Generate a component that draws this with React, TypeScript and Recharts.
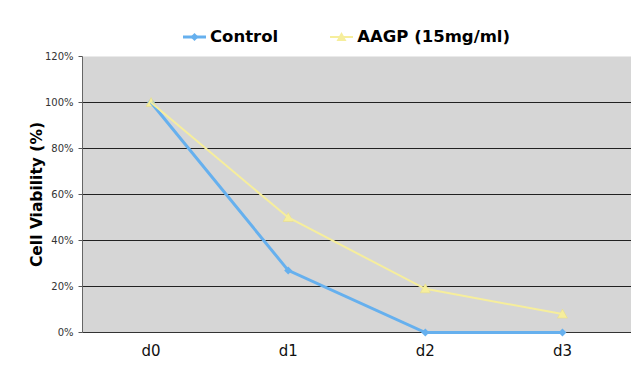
import React from 'react';
import { LineChart, Line, XAxis, YAxis, CartesianGrid, Legend } from 'recharts';

const categories = ['d0', 'd1', 'd2', 'd3'];
const controlValues = [100, 27, 0, 0];
const aagpValues = [100, 50, 19, 8];
const yTicks = [0, 20, 40, 60, 80, 100, 120];
const gridValues = [20, 40, 60, 80, 100];
const boundaryTicks = [0, 1, 2, 3, 4];

const CONTROL_COLOR = '#66b0ee';
const AAGP_COLOR = '#f6ee9c';

const data = categories.map((c, i) => ({ name: c, control: controlValues[i], aagp: aagpValues[i] }));

const Diamond = (props: any) => {
  const { cx, cy } = props;
  if (cx == null || cy == null) return null;
  const r = 4;
  return <path d={`M${cx},${cy - r}L${cx + r},${cy}L${cx},${cy + r}L${cx - r},${cy}Z`} fill={CONTROL_COLOR} stroke="none" />;
};

const Triangle = (props: any) => {
  const { cx, cy } = props;
  if (cx == null || cy == null) return null;
  const r = 5;
  return <path d={`M${cx},${cy - r}L${cx + r},${cy + r * 0.8}L${cx - r},${cy + r * 0.8}Z`} fill={AAGP_COLOR} stroke="#e8dc80" strokeWidth={0.5} />;
};

const legendItems = [
  { label: 'Control', color: CONTROL_COLOR, shape: 'diamond', width: 3 },
  { label: 'AAGP (15mg/ml)', color: AAGP_COLOR, shape: 'triangle', width: 2 },
];

const LegendContent = () => (
  <div style={{ display: 'flex', justifyContent: 'flex-start', alignItems: 'center', gap: 52, fontFamily: '"DejaVu Sans", Verdana, sans-serif', fontWeight: 'bold', fontSize: 16.5, lineHeight: '20px', color: '#000', paddingLeft: 183 }}>
    {legendItems.map((it) => (
      <div key={it.label} style={{ display: 'flex', alignItems: 'center' }}>
        <svg width={23} height={12} style={{ marginRight: 4 }}>
          <line x1={0} y1={6} x2={23} y2={6} stroke={it.color} strokeWidth={it.width} />
          {it.shape === 'diamond' ? (
            <path d="M11.5,2L15.5,6L11.5,10L7.5,6Z" fill={it.color} />
          ) : (
            <path d="M11.5,1L16.5,10L6.5,10Z" fill={it.color} />
          )}
        </svg>
        <span>{it.label}</span>
      </div>
    ))}
  </div>
);

export default function App() {
  return (
    <div style={{ position: 'absolute', left: 0, top: 0, width: 642, height: 375, background: '#fff' }}>
      <LineChart width={642} height={375} data={data} margin={{ top: 36.5, right: 11, bottom: 12.5, left: 0.5 }}>
        <CartesianGrid
          vertical={false}
          horizontalValues={gridValues}
          stroke="#222"
          strokeWidth={1}
          fill="#d6d6d6"
          fillOpacity={1}
        />
        <XAxis
          xAxisId="bounds"
          type="number"
          domain={[0, 4]}
          ticks={boundaryTicks}
          tickFormatter={() => ''}
          tickLine={{ stroke: '#333' }}
          tickSize={5}
          axisLine={false}
          height={0}
        />
        <XAxis
          dataKey="name"
          scale="band"
          tickLine={false}
          tickSize={5}
          tickMargin={8}
          axisLine={{ stroke: '#333', strokeWidth: 1 }}
          tick={{ fill: '#111', fontSize: 15, fontFamily: '"DejaVu Sans", Verdana, sans-serif' }}
          height={30}
        />
        <YAxis
          domain={[0, 120]}
          ticks={yTicks}
          tickFormatter={(v: number) => `${v}%`}
          tick={{ fill: '#333', fontSize: 10, fontFamily: '"DejaVu Sans", Verdana, sans-serif' }}
          tickSize={4}
          tickMargin={5}
          tickLine={{ stroke: '#555' }}
          axisLine={{ stroke: '#666' }}
          width={82}
          label={{
            value: 'Cell Viability (%)',
            angle: -90,
            position: 'center',
            dx: -5,
            style: { fontFamily: '"DejaVu Sans", Verdana, sans-serif', fontWeight: 'bold', fontSize: 15.5, fill: '#000' },
          }}
        />
        <Legend verticalAlign="top" wrapperStyle={{ top: 27, left: 0, width: 642 }} content={<LegendContent />} />
        <Line
          type="linear"
          dataKey="control"
          stroke={CONTROL_COLOR}
          strokeWidth={3}
          dot={<Diamond />}
          activeDot={false}
          isAnimationActive={false}
          zIndex={700}
        />
        <Line
          type="linear"
          dataKey="aagp"
          stroke={AAGP_COLOR}
          strokeWidth={2}
          dot={<Triangle />}
          activeDot={false}
          isAnimationActive={false}
          zIndex={700}
        />
      </LineChart>
    </div>
  );
}
